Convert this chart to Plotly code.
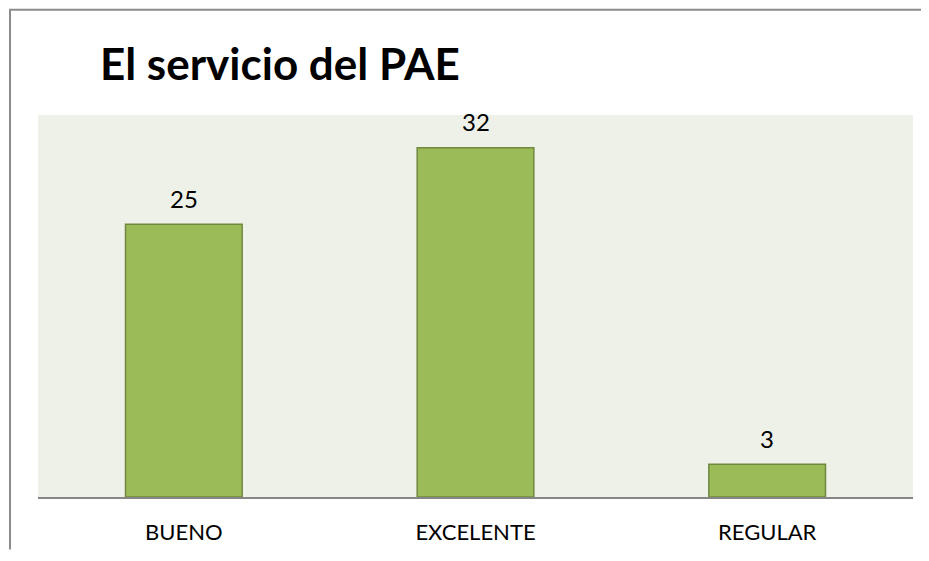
import plotly.graph_objects as go

categories = ["BUENO", "EXCELENTE", "REGULAR"]
values = [25, 32, 3]
title_text = "El servicio del PAE"

# page body has an 8px margin; figure sized to fit the 929x561 window
W, H = 913, 545
ml, mr, mt, mb = 30, 8, 107, 53
pw, ph = W - ml - mr, H - mt - mb

fig = go.Figure()
fig.add_trace(go.Bar(
    x=categories, y=values,
    marker=dict(color="#9BBB59", line=dict(color="#71893F", width=1.5)),
    hoverinfo="skip",
))

for c, v in zip(categories, values):
    fig.add_annotation(x=c, y=v, text=str(v), showarrow=False,
                       yanchor="middle", yshift=26,
                       font=dict(family="Lato", size=24, color="#000000"))

# outer chart frame: only left and top edges are visible in the crop
fx0 = (2 - ml) / pw
fy1 = (H - mb - 1) / ph
fig.add_shape(type="path", xref="paper", yref="paper",
              path=f"M {fx0},{-mb/ph} L {fx0},{fy1} L {(W-ml)/pw},{fy1}",
              line=dict(color="#8C8C8C", width=2), layer="below")

fig.update_layout(
    width=W, height=H,
    margin=dict(l=ml, r=mr, t=mt, b=mb),
    paper_bgcolor="#FFFFFF",
    plot_bgcolor="#EEF1E8",
    bargap=0.6,
    showlegend=False,
    title=dict(text="<b>" + title_text + "</b>", x=92 / W, xanchor="left",
               y=1 - 57 / H, yanchor="middle",
               font=dict(family="Lato", size=44, color="#000000")),
    xaxis=dict(showgrid=False, showline=True, linecolor="#868686", linewidth=2,
               ticks="", tickfont=dict(family="Lato", size=22, color="#000000"),
               ticklabelstandoff=15, fixedrange=True),
    yaxis=dict(range=[0, 35], showgrid=False, showticklabels=False, zeroline=False,
               showline=False, ticks="", fixedrange=True),
)

fig.write_html("out.html")
